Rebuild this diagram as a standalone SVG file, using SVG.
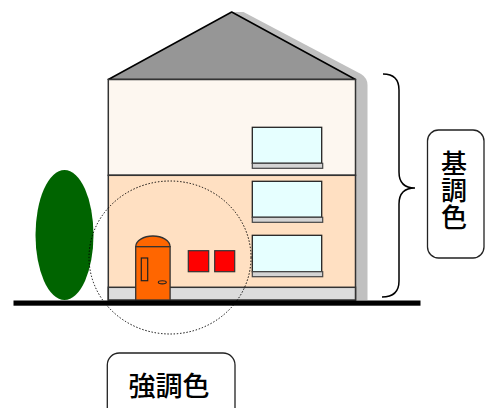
<svg xmlns="http://www.w3.org/2000/svg" width="492" height="408" viewBox="0 0 492 408">
  <style>
    .wall { stroke: #333; stroke-width: 1.5; }
    .win { fill: #e6ffff; stroke: #222; stroke-width: 1.3; }
    .sill { fill: #d4d4d4; stroke: #444; stroke-width: 1.2; }
    .red { fill: #ff0000; stroke: #333; stroke-width: 1.2; }
    .label { fill: #fff; stroke: #222; stroke-width: 1.3; }
    .txt { font-family: "Noto Sans CJK JP", "Noto Sans CJK SC", sans-serif; font-weight: 500; fill: #000; text-anchor: middle; }
  </style>

  <!-- drop shadow behind the house -->
  <path id="shadow" d="M243.5,12 L361,74 Q367.5,78 367.5,85 L367.5,300 L340,300 L232,12 Z" fill="#c0c0c0"/>

  <!-- tree -->
  <g id="tree">
    <ellipse cx="64.5" cy="235" rx="29" ry="65" fill="#006400"/>
  </g>

  <!-- house -->
  <g id="house">
    <polygon id="roof" points="231.7,12 355.5,79.5 108.3,79.5" fill="#969696" stroke="#000" stroke-width="1.5" stroke-linejoin="round"/>
    <rect id="upper-floor" x="108.3" y="79.5" width="247.2" height="95.8" fill="#fdf7f0" class="wall"/>
    <rect id="lower-floor" x="108.3" y="175.3" width="247.2" height="124.7" fill="#ffe0c2" class="wall"/>
    <rect id="base" x="108.3" y="287.3" width="247.2" height="12.7" fill="#dcdcdc" class="wall"/>

    <g id="window-1">
      <rect class="win" x="252.3" y="127.3" width="69.4" height="36"/>
      <rect class="sill" x="252.3" y="163.3" width="70.4" height="5"/>
    </g>
    <g id="window-2">
      <rect class="win" x="252.3" y="181.3" width="69.4" height="36"/>
      <rect class="sill" x="252.3" y="217.3" width="70.4" height="5"/>
    </g>
    <g id="window-3">
      <rect class="win" x="252.3" y="235.3" width="69.4" height="36.4"/>
      <rect class="sill" x="252.3" y="271.7" width="70.4" height="5"/>
    </g>

    <g id="door">
      <path d="M135.7,246.7 A17.2,10.7 0 0 1 170.1,246.7 Z" fill="#ff6600" stroke="#333" stroke-width="1.3"/>
      <rect x="135.7" y="246.7" width="34.4" height="53.3" fill="#ff6600" stroke="#333" stroke-width="1.3"/>
      <rect x="141.3" y="258" width="6.4" height="22.7" fill="none" stroke="#222" stroke-width="1.2"/>
      <ellipse cx="162.3" cy="282.3" rx="4" ry="1.6" fill="none" stroke="#222" stroke-width="1.1"/>
    </g>

    <g id="accent-boxes">
      <rect class="red" x="188.3" y="250.7" width="20.4" height="21"/>
      <rect class="red" x="214.7" y="250.7" width="20" height="21"/>
    </g>
  </g>

  <!-- ground -->
  <rect id="ground" x="13.5" y="300.5" width="407" height="5.2" fill="#000"/>

  <!-- connectors: accent area ring and base-colour brace -->
  <g id="connectors" fill="none" stroke="#000">
    <ellipse cx="170" cy="257.5" rx="81" ry="76.5" stroke-width="1" stroke-dasharray="1.4 1.8"/>
    <path d="M383,74 Q399,74 399,90 L399,172 Q399,188 415,188 Q399,188 399,204 L399,281 Q399,297 382,297" stroke-width="1.5"/>
  </g>

  <!-- labels -->
  <g id="label-base">
    <rect class="label" x="427.5" y="130" width="56.5" height="128" rx="11"/>
    <text class="txt" x="454" y="191" font-size="26" writing-mode="vertical-rl" letter-spacing="1">基調色</text>
  </g>
  <g id="label-accent">
    <rect class="label" x="107.3" y="353" width="127.7" height="70" rx="12"/>
    <text class="txt" x="169" y="384" font-size="27" dominant-baseline="central">強調色</text>
  </g>
</svg>
